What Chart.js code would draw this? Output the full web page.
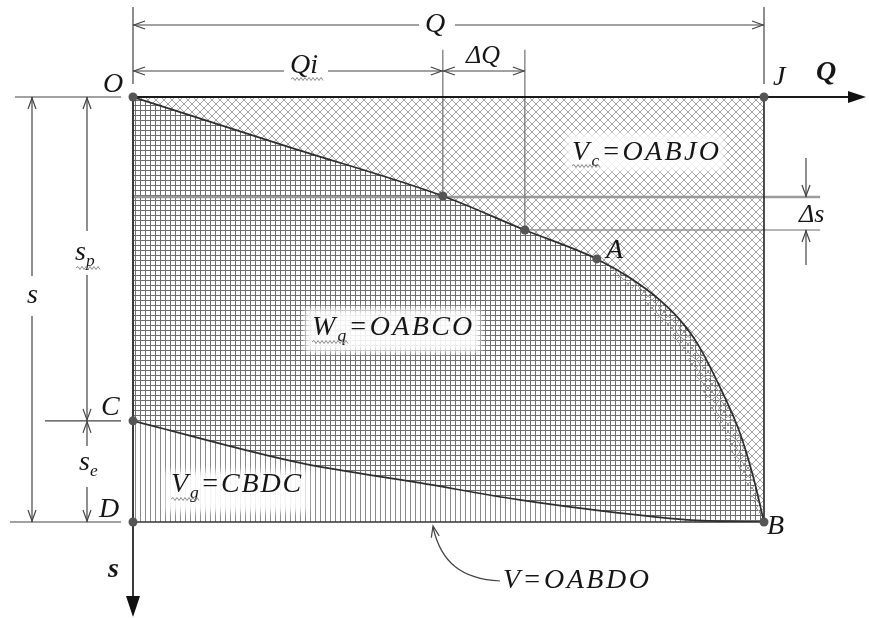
<!DOCTYPE html>
<html>
<head>
<meta charset="utf-8">
<script src="https://cdn.jsdelivr.net/npm/chart.js@4.4.1/dist/chart.umd.min.js"></script>
<style>
  html, body { margin: 0; padding: 0; background: #fff; }
  #wrap { width: 869px; height: 618px; }
</style>
</head>
<body>
<div id="wrap"><canvas id="c" width="869" height="618"></canvas></div>
<script>
// Curve O-A-B: cumulative volume Q against drawdown s
const curveQ = [0, 25, 49.1, 62.1, 73.5, 78.8, 83.5, 86.7, 89.4, 93.0, 96.2, 98.3, 100];
const curveS = [0, 11.9, 23.3, 31.3, 38.1, 42.6, 47.8, 52.5, 57.9, 68.2, 79.1, 89.4, 100];

// Curve C-B
const lowerQ = [0, 26.5, 45.5, 61.3, 77.2, 87.8, 100];
const lowerS = [76.2, 86.1, 90.8, 94.8, 97.9, 99.5, 100];

// Inner edge of the overlapping hatch strip along A-B
const bandQ = [73.5, 74.8, 80.3, 82.7, 85.1, 88.0, 91.0, 93.3, 95.4, 97.5, 99.0, 100];
const bandS = [38.1, 40.2, 46.6, 51.3, 55.5, 61.9, 71.3, 78.4, 85.4, 92.5, 97.6, 100];

// Marked points
const pointNames = ['O', 'J', 'C', 'D', 'B', 'A', 'Qi', 'dQ'];
const pointQ = [0, 100, 0, 0, 100, 73.5, 49.1, 62.1];
const pointS = [0, 0, 76.2, 100, 100, 38.1, 23.3, 31.3];

const pt = name => ({ q: pointQ[pointNames.indexOf(name)], s: pointS[pointNames.indexOf(name)] });
const toXY = (qs, ss) => qs.map((q, i) => ({ x: q, y: ss[i] }));

// Hatch patterns
function makePattern(size, draw) {
  const c = document.createElement('canvas');
  c.width = size; c.height = size;
  const g = c.getContext('2d');
  draw(g, size);
  return g.createPattern(c, 'repeat');
}
const crossHatch = makePattern(8, (g, n) => {
  g.strokeStyle = '#a2a2a2'; g.lineWidth = 1;
  g.beginPath();
  g.moveTo(-1, -1); g.lineTo(n + 1, n + 1);
  g.moveTo(n + 1, -1); g.lineTo(-1, n + 1);
  g.stroke();
});
const squareGrid = makePattern(5, (g, n) => {
  g.fillStyle = '#6e6e6e';
  g.fillRect(0, 0, n, 1);
  g.fillRect(0, 0, 1, n);
});
const verticalLines = makePattern(5, (g, n) => {
  g.fillStyle = '#8a8a8a';
  g.fillRect(0, 0, 1, n);
});

const SERIF = '"Liberation Serif", "Times New Roman", Times, serif';

function arrowHead(ctx, tx, ty, fx, fy, len, half) {
  const a = Math.atan2(ty - fy, tx - fx);
  const w = Math.atan2(half, len);
  const L = Math.hypot(len, half);
  ctx.beginPath();
  ctx.moveTo(tx - L * Math.cos(a - w), ty - L * Math.sin(a - w));
  ctx.lineTo(tx, ty);
  ctx.lineTo(tx - L * Math.cos(a + w), ty - L * Math.sin(a + w));
  ctx.stroke();
}
function line(ctx, x1, y1, x2, y2) {
  ctx.beginPath(); ctx.moveTo(x1, y1); ctx.lineTo(x2, y2); ctx.stroke();
}
function wavy(ctx, x1, x2, y) {
  ctx.save();
  ctx.strokeStyle = '#8a8a8a'; ctx.lineWidth = 1;
  ctx.beginPath();
  ctx.moveTo(x1, y);
  let up = true;
  for (let x = x1; x < x2; x += 2) {
    ctx.lineTo(x + 2, y + (up ? -1.5 : 1.5));
    up = !up;
  }
  ctx.stroke();
  ctx.restore();
}
// Draws text runs; a run with sub:true is set smaller and lowered
function rich(ctx, runs, x, y, size, opts = {}) {
  const style = opts.bold ? 'italic bold' : 'italic';
  const spacing = opts.spacing || 0;
  let cx = x;
  const spans = [];
  ctx.save();
  ctx.fillStyle = opts.color || '#161616';
  ctx.textBaseline = 'alphabetic';
  ctx.textAlign = 'left';
  for (const r of runs) {
    const sz = r.sub ? size * 0.62 : size;
    const dy = r.sub ? size * 0.22 : 0;
    ctx.font = `${style} ${sz}px ${SERIF}`;
    const start = cx;
    for (const ch of r.t) {
      ctx.fillText(ch, cx, y + dy);
      cx += ctx.measureText(ch).width + spacing;
    }
    spans.push({ x1: start, x2: cx - spacing });
  }
  ctx.restore();
  return spans;
}

const diagram = {
  id: 'diagram',
  beforeDatasetsDraw(chart) {
    const { ctx, scales: { x, y } } = chart;
    const X = v => x.getPixelForValue(v);
    const Y = v => y.getPixelForValue(v);
    const qi = pt('Qi'), dq = pt('dQ');
    ctx.save();

    // soft white boxes behind the region labels
    ctx.filter = 'blur(3px)';
    ctx.fillStyle = 'rgba(255,255,255,0.9)';
    ctx.fillRect(566, 133, 158, 38);
    ctx.fillRect(305, 309, 175, 43);
    ctx.fillRect(165, 471, 143, 41);
    ctx.filter = 'none';

    // guide lines through the two curve points
    ctx.strokeStyle = 'rgba(150,150,150,0.95)'; ctx.lineWidth = 2.6;
    line(ctx, X(0), Y(qi.s) + 1, X(108.9), Y(qi.s) + 1);
    ctx.strokeStyle = '#6a6a6a'; ctx.lineWidth = 1;
    line(ctx, X(dq.q), Y(dq.s), X(108.9), Y(dq.s));
    ctx.strokeStyle = '#7a7a7a'; ctx.lineWidth = 1.3;
    line(ctx, X(qi.q), Y(-11.1), X(qi.q), Y(qi.s));
    line(ctx, X(dq.q), Y(-11.1), X(dq.q), Y(dq.s));

    // frame: right and bottom edges
    ctx.strokeStyle = '#222'; ctx.lineWidth = 1.6;
    line(ctx, X(100), Y(0), X(100), Y(100));
    ctx.strokeStyle = '#333'; ctx.lineWidth = 1.6;
    line(ctx, X(0), Y(100), X(100), Y(100));

    // Q axis (to the right) and s axis (downward)
    ctx.strokeStyle = '#1a1a1a'; ctx.lineWidth = 2;
    line(ctx, X(0), Y(0), 850, Y(0));
    ctx.fillStyle = '#111';
    ctx.beginPath(); ctx.moveTo(866, Y(0)); ctx.lineTo(848, Y(0) - 6); ctx.lineTo(848, Y(0) + 6); ctx.closePath(); ctx.fill();
    ctx.strokeStyle = '#3a3a3a'; ctx.lineWidth = 2;
    line(ctx, X(0), Y(0), X(0), 600);
    ctx.beginPath(); ctx.moveTo(X(0), 617); ctx.lineTo(X(0) - 7, 596); ctx.lineTo(X(0) + 7, 596); ctx.closePath(); ctx.fill();
    ctx.restore();
  },
  afterDraw(chart) {
    const { ctx, scales: { x, y } } = chart;
    const X = v => x.getPixelForValue(v);
    const Y = v => y.getPixelForValue(v);
    const qi = pt('Qi'), dq = pt('dQ'), c = pt('C');
    const x0 = X(0), x1 = X(100), y0 = Y(0), y1 = Y(100), yc = Y(c.s);
    ctx.save();
    ctx.strokeStyle = '#444'; ctx.lineWidth = 1.2;

    // top dimension Q
    line(ctx, x0, 7, x0, 84);
    line(ctx, x1, 7, x1, 84);
    line(ctx, x0, 25, 419, 25);
    line(ctx, 455, 25, x1, 25);
    arrowHead(ctx, x0 + 1, 25, x0 + 20, 25, 11, 4);
    arrowHead(ctx, x1 - 1, 25, x1 - 20, 25, 11, 4);

    // Qi and ΔQ dimensions
    const xq = X(qi.q), xd = X(dq.q);
    line(ctx, x0, 71, 284, 71);
    line(ctx, 328, 71, xq, 71);
    arrowHead(ctx, x0 + 1, 71, x0 + 20, 71, 11, 4);
    arrowHead(ctx, xq - 1, 71, xq - 20, 71, 11, 4);
    line(ctx, xq, 71, xd, 71);
    arrowHead(ctx, xq + 1, 71, xq + 20, 71, 11, 4);
    arrowHead(ctx, xd - 1, 71, xd - 20, 71, 11, 4);

    // left dimensions s, sp, se
    line(ctx, 15, y0, 121, y0);
    line(ctx, 45, yc, 121, yc);
    line(ctx, 10, y1, 121, y1);
    line(ctx, 32, y0, 32, 276);
    line(ctx, 32, 316, 32, y1);
    arrowHead(ctx, 32, y0 + 1, 32, y0 + 20, 11, 4);
    arrowHead(ctx, 32, y1 - 1, 32, y1 - 20, 11, 4);
    line(ctx, 87, y0, 87, 231);
    line(ctx, 87, 275, 87, yc);
    arrowHead(ctx, 87, y0 + 1, 87, y0 + 20, 11, 4);
    arrowHead(ctx, 87, yc - 1, 87, yc - 20, 11, 4);
    line(ctx, 87, yc, 87, 446);
    line(ctx, 87, 487, 87, y1);
    arrowHead(ctx, 87, yc + 1, 87, yc + 20, 11, 4);
    arrowHead(ctx, 87, y1 - 1, 87, y1 - 20, 11, 4);

    // Δs dimension
    const ys1 = Y(qi.s) + 1, ys2 = Y(dq.s);
    line(ctx, 806, 158, 806, ys1);
    arrowHead(ctx, 806, ys1 - 1, 806, ys1 - 20, 11, 4);
    line(ctx, 806, ys2, 806, 265);
    arrowHead(ctx, 806, ys2 + 1, 806, ys2 + 20, 11, 4);

    // leader to V=OABDO
    ctx.beginPath();
    ctx.moveTo(500, 581);
    ctx.bezierCurveTo(462, 579, 441, 563, 433, 527);
    ctx.stroke();
    arrowHead(ctx, 433, 526, 437, 545, 11, 4);

    // point letters
    const F = 28;
    rich(ctx, [{ t: 'O' }], 103, 92, F);
    rich(ctx, [{ t: 'J' }], 773, 85, F);
    rich(ctx, [{ t: 'A' }], 606, 258, F);
    rich(ctx, [{ t: 'C' }], 101, 415, F);
    rich(ctx, [{ t: 'D' }], 99, 517, F);
    rich(ctx, [{ t: 'B' }], 767, 534, F);

    // dimension labels
    rich(ctx, [{ t: 'Q' }], 425, 32, F);
    let sp = rich(ctx, [{ t: 'Q' }, { t: 'i' }], 290, 73, F);
    wavy(ctx, 291, 322, 79);
    rich(ctx, [{ t: 'ΔQ' }], 466, 63, 26);
    rich(ctx, [{ t: 'Δs' }], 799, 222, 26);
    rich(ctx, [{ t: 's' }], 27, 303, F);
    sp = rich(ctx, [{ t: 's' }, { t: 'p', sub: true }], 75, 260, F);
    wavy(ctx, 76, 99, 268);
    rich(ctx, [{ t: 's' }, { t: 'e', sub: true }], 79, 470, F);

    // axis names
    rich(ctx, [{ t: 'Q' }], 816, 80, F, { bold: true });
    rich(ctx, [{ t: 's' }], 108, 577, F, { bold: true });

    // region labels
    sp = rich(ctx, [{ t: 'V' }, { t: 'c', sub: true }, { t: '=OABJO' }], 572, 160, F, { spacing: 2.3 });
    wavy(ctx, sp[0].x1, sp[1].x2, 166);
    sp = rich(ctx, [{ t: 'W' }, { t: 'q', sub: true }, { t: '=OABCO' }], 312, 335, F, { spacing: 2.3 });
    wavy(ctx, sp[0].x1, sp[1].x2, 342);
    sp = rich(ctx, [{ t: 'V' }, { t: 'g', sub: true }, { t: '=CBDC' }], 171, 492, F, { spacing: 1.8 });
    wavy(ctx, sp[0].x1, sp[1].x2, 499);
    rich(ctx, [{ t: 'V=OABDO' }], 503, 588, F, { spacing: 2.5 });
    ctx.restore();
  }
};

function build() {
  new Chart(document.getElementById('c'), {
    type: 'line',
    data: {
      datasets: [
        { label: 'points', data: toXY(pointQ, pointS), showLine: false, pointRadius: 4.5,
          pointBackgroundColor: '#555', pointBorderWidth: 0, fill: false, clip: false, order: 0 },
        { label: 'overlap strip', data: toXY(bandQ, bandS), borderWidth: 0, pointRadius: 0,
          fill: 2, backgroundColor: crossHatch, cubicInterpolationMode: 'monotone', order: 1 },
        { label: 'OAB', data: toXY(curveQ, curveS), borderColor: '#2e2e2e', borderWidth: 1.7, pointRadius: 0,
          fill: 4, backgroundColor: squareGrid, cubicInterpolationMode: 'monotone', order: 2 },
        { label: 'OABJO', data: toXY(curveQ, curveS), borderWidth: 0, pointRadius: 0,
          fill: { value: 0 }, backgroundColor: crossHatch, cubicInterpolationMode: 'monotone', order: 3 },
        { label: 'CB', data: toXY(lowerQ, lowerS), borderColor: '#2e2e2e', borderWidth: 1.7, pointRadius: 0,
          fill: { value: 100 }, backgroundColor: verticalLines, cubicInterpolationMode: 'monotone', order: 4 }
      ]
    },
    options: {
      responsive: false,
      animation: false,
      devicePixelRatio: 1,
      layout: { padding: { left: 133, right: 105, top: 97, bottom: 96 } },
      scales: {
        x: { type: 'linear', min: 0, max: 100, display: false },
        y: { type: 'linear', min: 0, max: 100, reverse: true, display: false }
      },
      plugins: {
        legend: { display: false },
        tooltip: { enabled: false },
        filler: { drawTime: 'beforeDatasetsDraw', propagate: false }
      }
    },
    plugins: [diagram]
  });
}

// make sure the serif faces are ready before drawing
Promise.all([
  document.fonts.load('italic 28px "Liberation Serif"'),
  document.fonts.load('italic bold 28px "Liberation Serif"')
]).then(build, build);
</script>
</body>
</html>
